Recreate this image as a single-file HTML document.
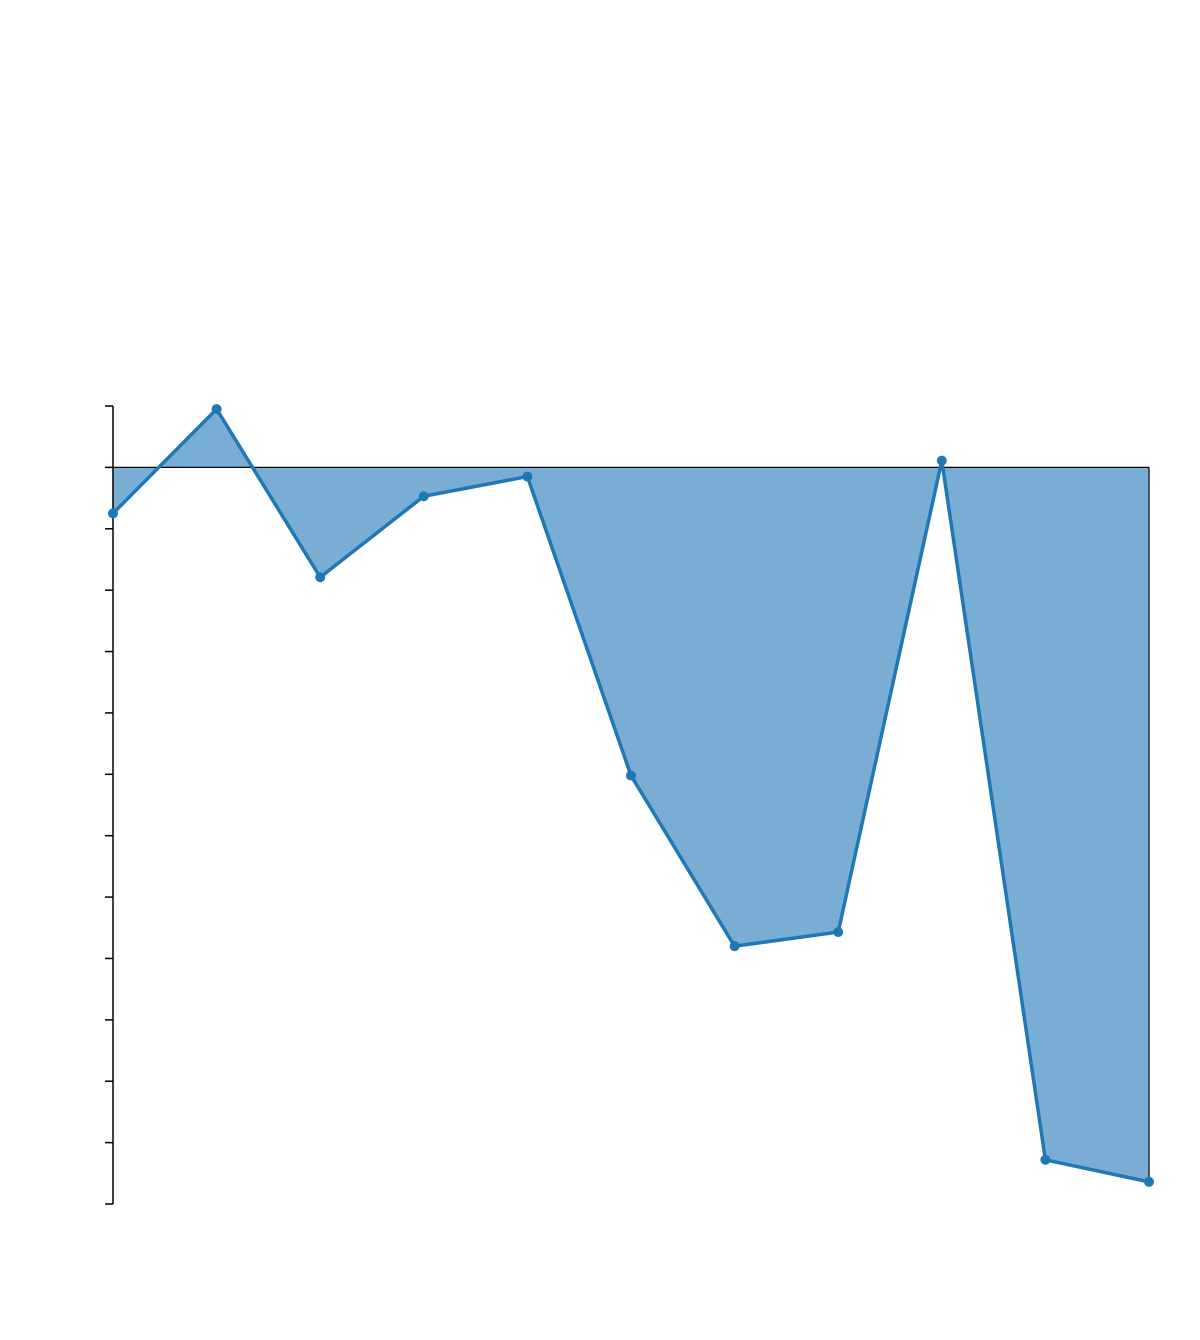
<!DOCTYPE html>
<html><head><meta charset="utf-8">
<style>html,body{margin:0;padding:0;background:#fff;}svg{display:block;}</style>
</head><body>
<svg id="chart" width="1200" height="1340" xmlns="http://www.w3.org/2000/svg"></svg>
<script>
const categories = [0,1,2,3,4,5,6,7,8,9,10];
const seriesValues = [-0.75,0.95,-1.79,-0.47,-0.15,-5.02,-7.8,-7.57,0.11,-11.28,-11.64];
const yTicks = [1,0,-1,-2,-3,-4,-5,-6,-7,-8,-9,-10,-11,-12];

const NS='http://www.w3.org/2000/svg';
const svg=document.getElementById('chart');
const x0=113,x1=1149,yMax=1,yMin=-12,py0=406,py1=1204;
const xScale=i=>x0+(x1-x0)*(i-categories[0])/(categories[categories.length-1]-categories[0]);
const yScale=v=>py0+(yMax-v)/(yMax-yMin)*(py1-py0);
function mk(tag,attrs){const e=document.createElementNS(NS,tag);for(const k in attrs)e.setAttribute(k,attrs[k]);svg.appendChild(e);return e;}

// fill between series and zero
let d='M'+xScale(categories[0])+','+yScale(0);
categories.forEach((c,i)=>{d+=' L'+xScale(c)+','+yScale(seriesValues[i]);});
d+=' L'+xScale(categories[categories.length-1])+','+yScale(0)+' Z';
const fill=mk('path',{d:d,fill:'#7aadd3',stroke:'none'});



// right edge of fill
const edge=mk('line',{x1:x1,y1:yScale(0),x2:x1,y2:yScale(seriesValues[seriesValues.length-1]),stroke:'#000','stroke-width':1.2});



// zero line
const zl=mk('line',{x1:x0,y1:yScale(0),x2:x1,y2:yScale(0),stroke:'#000','stroke-width':1.2});



// y axis
const ax=mk('line',{x1:x0,y1:yScale(yMax),x2:x0,y2:yScale(yMin),stroke:'#000','stroke-width':1.5});


yTicks.forEach(t=>{
  const tk=mk('line',{x1:x0-8,y1:yScale(t),x2:x0,y2:yScale(t),stroke:'#000','stroke-width':1.5});
  
  
});

// series line
const pts=categories.map((c,i)=>xScale(c)+','+yScale(seriesValues[i])).join(' ');
const ln=mk('polyline',{points:pts,fill:'none',stroke:'#1f77b4','stroke-width':3.5,'stroke-linejoin':'round'});


categories.forEach((c,i)=>{
  const p=mk('circle',{cx:xScale(c),cy:yScale(seriesValues[i]),r:5,fill:'#1f77b4'});
  
  
});
</script>
</body></html>
